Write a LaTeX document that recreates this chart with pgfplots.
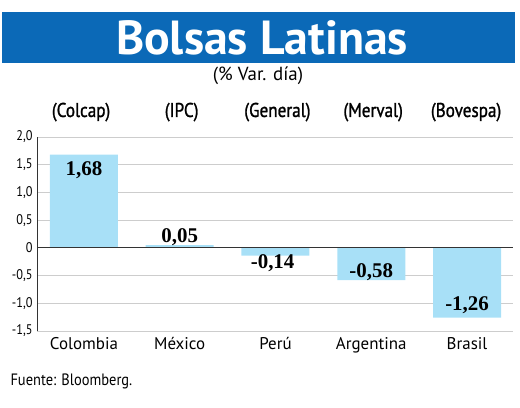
\documentclass[border=0pt]{standalone}
\usepackage{pgfplots}
\pgfplotsset{compat=1.18}
\usepackage{fontspec}
\setmainfont{PT Sans}
\newfontfamily\valfont{Liberation Serif}
\newfontfamily\idxfont[FakeStretch=0.88]{PT Sans}
\newfontfamily\hdrfont[FakeStretch=0.86,FakeBold=1.2]{PT Sans}
\definecolor{banner}{RGB}{11,105,183}
\definecolor{barblue}{RGB}{168,224,247}
\definecolor{gridgray}{RGB}{205,205,205}
\begin{document}
\begin{tikzpicture}[x=1bp,y=1bp]
\path[use as bounding box] (0,0) rectangle (520,407);
\fill[banner] (2,344) rectangle (515,395);
\node[text=white, font=\fontsize{48}{48}\selectfont\bfseries] at (262,369) {Bolsas Latinas};
\node[font=\fontsize{19}{19}\selectfont] at (258,331) {(\% Var. día)};
\node[anchor=west, font=\fontsize{16.5}{16.5}\selectfont\idxfont] at (7,26) {Fuente: Bloomberg.};
\begin{axis}[
  at={(37bp,76bp)}, anchor=south west, scale only axis,
  width=476bp, height=194bp,
  xmin=-0.49, xmax=4.48, ymin=-1.5, ymax=2.0,
  axis line style={draw=none},
  clip=false,
  ybar, bar width=68bp,
  ymajorgrids, grid style={gridgray, line width=0.9pt},
  major tick length=0pt,
  ytick={-1.5,-1,-0.5,0,0.5,1,1.5,2},
  yticklabels={{-1,5},{-1,0},{-0,5},0,{0,5},{1,0},{1,5},{2,0}},
  yticklabel style={font=\fontsize{14}{14}\selectfont\idxfont, xshift=-1bp},
  xtick={0,1,2,3,4},
  xticklabels={Colombia,México,Perú,Argentina,Brasil},
  xticklabel style={font=\fontsize{17}{17}\selectfont, yshift=-3bp},
]
\addplot[fill=barblue, draw=none] coordinates {(0,1.68) (1,0.05) (2,-0.14) (3,-0.58) (4,-1.26)};
\draw[black!80, line width=1pt] (axis cs:-0.49,0) -- (axis cs:4.48,0);
\draw[black!80, line width=1pt] (axis cs:-0.49,-1.5) -- (axis cs:-0.49,2.0);
\begin{scope}[font=\fontsize{21}{21}\selectfont\valfont\bfseries]
\node at (axis cs:0,1.41) {1,68};
\node at (axis cs:1,0.20) {0,05};
\node at (axis cs:1.97,-0.27) {-0,14};
\node at (axis cs:3,-0.43) {-0,58};
\node at (axis cs:4,-1.03) {-1,26};
\end{scope}
\begin{scope}[font=\fontsize{20}{20}\selectfont\hdrfont]
\node at (axis cs:-0.03,2.45) {(Colcap)};
\node at (axis cs:1.02,2.45) {(IPC)};
\node at (axis cs:2.02,2.45) {(General)};
\node at (axis cs:3.02,2.45) {(Merval)};
\node at (axis cs:3.99,2.45) {(Bovespa)};
\end{scope}
\end{axis}
\end{tikzpicture}
\end{document}
